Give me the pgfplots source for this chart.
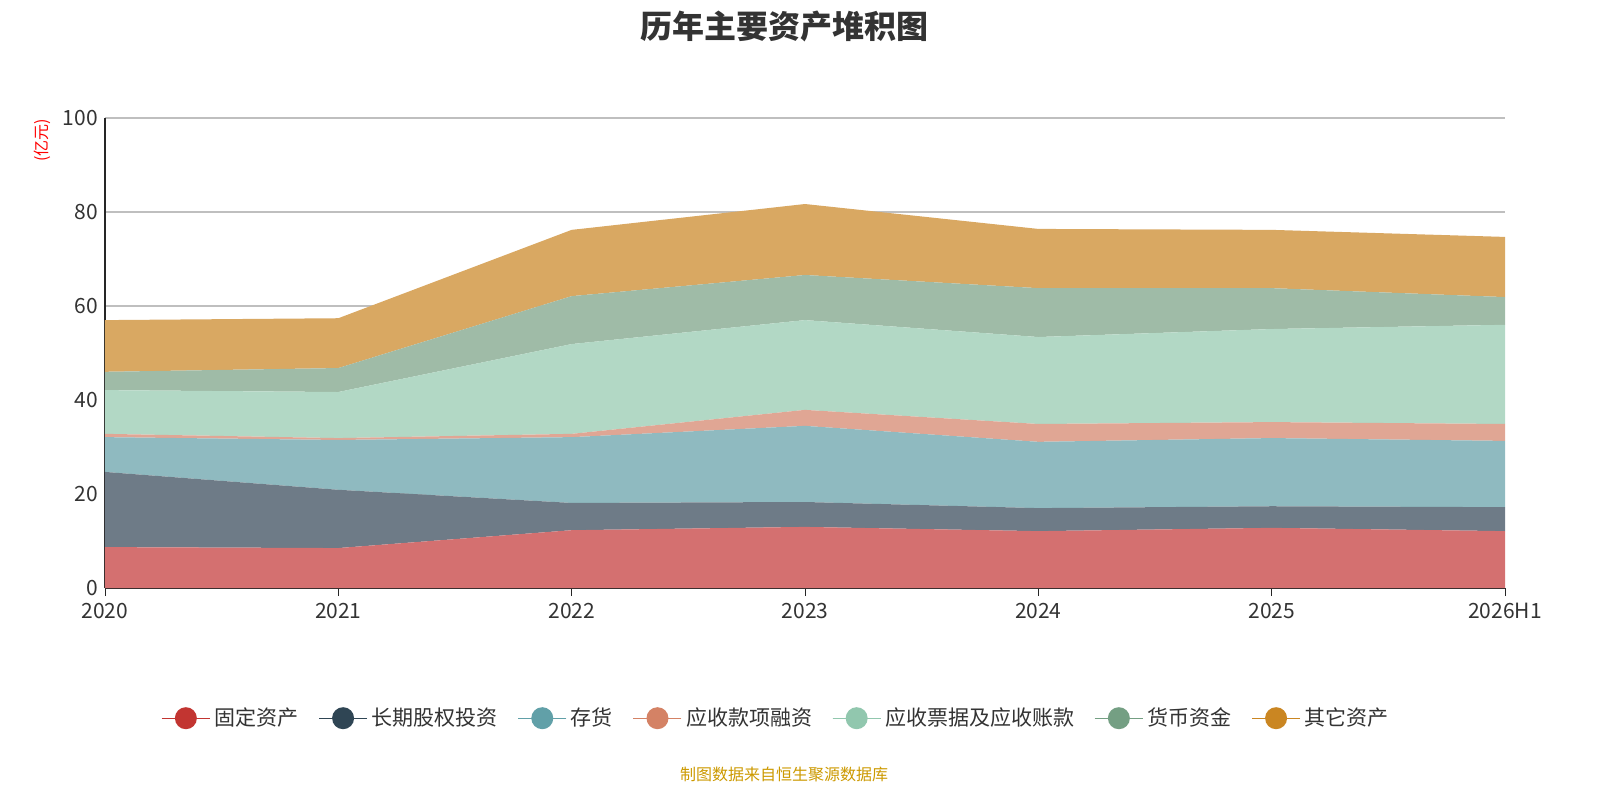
\documentclass[border=0pt]{standalone}
\usepackage{fontspec}
\setmainfont{Noto Sans CJK SC}
\usepackage{pgfplots}
\pgfplotsset{compat=1.18}
\definecolor{f1}{HTML}{D47070}\definecolor{m1}{HTML}{C23531}
\definecolor{f2}{HTML}{6E7B87}\definecolor{m2}{HTML}{2F4554}
\definecolor{f3}{HTML}{8FBAC0}\definecolor{m3}{HTML}{61A0A8}
\definecolor{f4}{HTML}{E0A694}\definecolor{m4}{HTML}{D48265}
\definecolor{f5}{HTML}{B2D8C5}\definecolor{m5}{HTML}{91C7AE}
\definecolor{f6}{HTML}{9FBBA7}\definecolor{m6}{HTML}{749F83}
\definecolor{f7}{HTML}{D9A862}\definecolor{m7}{HTML}{CA8622}
\pgfplotsset{lg/.style={legend image code/.code={
  \draw[#1,line width=0.6pt] (0pt,0pt) -- (24pt,0pt);
  \fill[#1] (12pt,0pt) circle (5.5pt);}}}
\begin{document}
\begin{tikzpicture}
\begin{axis}[scale only axis,width=700pt,height=235pt,
  stack plots=y, xmin=0,xmax=6,ymin=0,ymax=100,
  xtick={0,...,6},xticklabels={2020,2021,2022,2023,2024,2025,2026H1},
  ytick={0,20,...,100},
  ymajorgrids, grid style={gray!50,line width=0.6pt},
  axis x line*=bottom, axis y line*=left,
  axis line style={black!85,line width=0.6pt},
  tick style={black!85}, major tick length=4pt, ytick style={draw=none},
  xtick align=outside,
  tick label style={font=\fontsize{10.5}{12}\selectfont,text=black!80},
  /pgf/number format/assume math mode=true,
  legend style={at={(0.48,-0.277)},anchor=center,draw=none,legend columns=-1,
    font=\fontsize{10.5}{12}\selectfont,text=black!80,
    /tikz/every even column/.append style={column sep=8pt}},
  clip=false]
\addplot[fill=f1,draw=none,lg=m1] coordinates {(0,8.7)(1,8.5)(2,12.3)(3,13)(4,12.1)(5,12.8)(6,12.1)} \closedcycle;
\addplot[fill=f2,draw=none,lg=m2] coordinates {(0,16.0)(1,12.4)(2,5.8)(3,5.3)(4,4.9)(5,4.6)(6,5.1)} \closedcycle;
\addplot[fill=f3,draw=none,lg=m3] coordinates {(0,7.4)(1,10.6)(2,14.0)(3,16.2)(4,14.1)(5,14.5)(6,14.1)} \closedcycle;
\addplot[fill=f4,draw=none,lg=m4] coordinates {(0,0.7)(1,0.4)(2,0.7)(3,3.4)(4,3.8)(5,3.4)(6,3.6)} \closedcycle;
\addplot[fill=f5,draw=none,lg=m5] coordinates {(0,9.3)(1,9.8)(2,19.1)(3,19.1)(4,18.5)(5,19.8)(6,21.1)} \closedcycle;
\addplot[fill=f6,draw=none,lg=m6] coordinates {(0,3.9)(1,5.1)(2,10.2)(3,9.6)(4,10.4)(5,8.7)(6,5.9)} \closedcycle;
\addplot[fill=f7,draw=none,lg=m7] coordinates {(0,11.0)(1,10.6)(2,14.1)(3,15.1)(4,12.6)(5,12.4)(6,12.8)} \closedcycle;
\legend{固定资产,长期股权投资,存货,应收款项融资,应收票据及应收账款,货币资金,其它资产}
\end{axis}
\path[use as bounding box] (-52.5pt,-106pt) rectangle (747.5pt,294pt);
\node[font=\bfseries\fontsize{16}{18}\selectfont,text=black!80] at (339.5pt,281pt) {历年主要资产堆积图};
\node[rotate=90,text=red,font=\fontsize{8}{9}\selectfont] at (-31.5pt,224pt) {(亿元)};
\node[text={rgb,255:red,204;green,153;blue,0},font=\fontsize{8}{9}\selectfont] at (339.5pt,-93pt) {制图数据来自恒生聚源数据库};
\end{tikzpicture}
\end{document}
